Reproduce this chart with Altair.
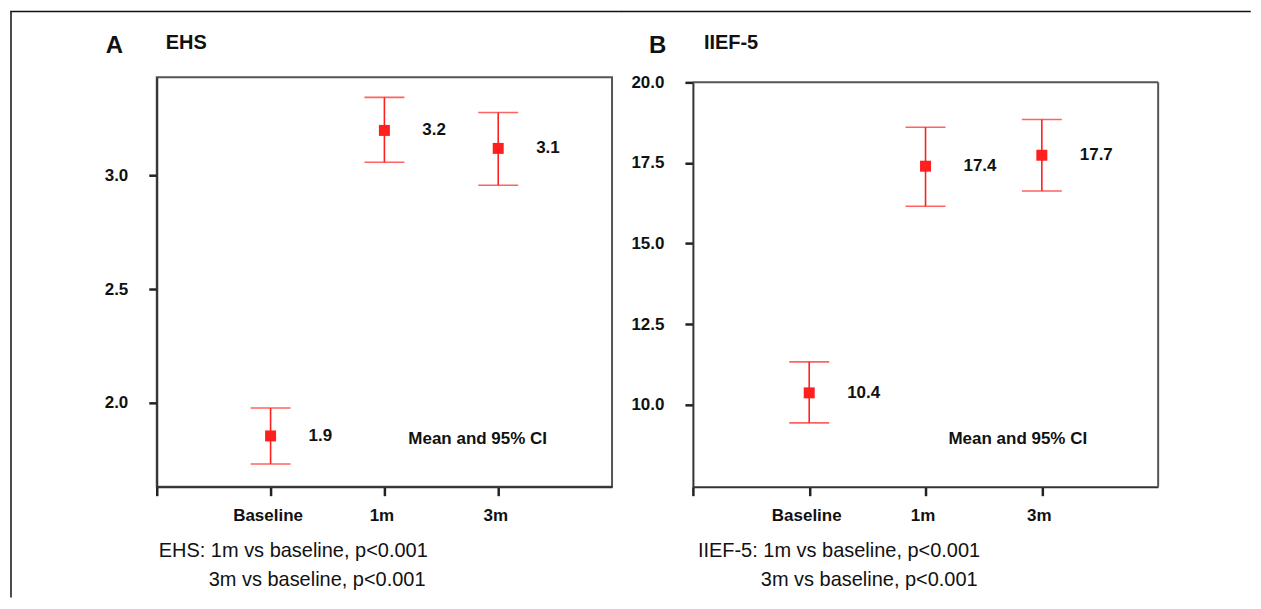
import altair as alt
import pandas as pd

# ---------------- data ----------------
categories = ["Baseline", "1m", "3m"]
positions = [1, 2, 3]

ehs_mean = [1.855, 3.197, 3.118]
ehs_lo = [1.732, 3.057, 2.956]
ehs_hi = [1.978, 3.342, 3.276]
ehs_labels = ["1.9", "3.2", "3.1"]

iief_mean = [10.37, 17.40, 17.74]
iief_lo = [9.44, 16.16, 16.63]
iief_hi = [11.33, 18.61, 18.85]
iief_labels = ["10.4", "17.4", "17.7"]

ehs_ticks = [2.0, 2.5, 3.0]
iief_ticks = [10.0, 12.5, 15.0, 17.5, 20.0]
ehs_domain = [1.632, 3.43]
iief_domain = [7.46, 20.0]
x_ticks = [0, 1, 2, 3]
x_domain = [0, 4]

ehs_notes = ["EHS: 1m vs baseline, p<0.001", "3m vs baseline, p<0.001"]
iief_notes = ["IIEF-5: 1m vs baseline, p<0.001", "3m vs baseline, p<0.001"]
legend_note = "Mean and 95% CI"

FONT = "Liberation Sans, Arial, sans-serif"
RED = "#ff1f1f"
FRAME = "#555555"
H = 410

label_expr = " : ".join(
    f"datum.value == {p} ? '{c}'" for p, c in zip(positions, categories)
) + " : ''"


def text_chart(txt, x, y, size, weight="bold", align="left", baseline="alphabetic"):
    return alt.Chart(pd.DataFrame({"t": [txt]})).mark_text(
        align=align, baseline=baseline, font=FONT, fontSize=size,
        fontWeight=weight, color="#111111"
    ).encode(x=alt.value(x), y=alt.value(y), text="t:N")


def panel(mean, lo, hi, labels, ticks, domain, width,
          letter, name, notes, letter_pos, name_pos, legend_pos,
          note_pos, border_left, border_right, y_range=None):
    df = pd.DataFrame({
        "pos": positions, "cat": categories, "mean": mean,
        "lo": lo, "hi": hi, "label": labels,
    })
    xaxis = alt.Axis(values=x_ticks, labelExpr=label_expr, title="",
                     grid=False, tickSize=9, tickWidth=2.5, tickColor="#222222",
                     domainColor="#333333", domainWidth=2,
                     labelFont=FONT, labelFontSize=17, labelFontWeight="bold",
                     labelColor="#111111", labelPadding=12, labelOffset=-3,
                     labelFlush=False)
    yaxis = alt.Axis(values=ticks, format=".1f", title="", grid=False,
                     tickSize=8, tickWidth=2.5, tickColor="#222222",
                     domainColor="#333333", domainWidth=2,
                     labelFont=FONT, labelFontSize=17, labelFontWeight="bold",
                     labelColor="#111111", labelPadding=21, labelFlush=False)

    if y_range is None:
        yscale = alt.Scale(domain=domain, nice=False, zero=False)
    else:
        yscale = alt.Scale(domain=domain, nice=False, zero=False, range=y_range)

    def X():
        return alt.X("pos:Q", scale=alt.Scale(domain=x_domain, nice=False, zero=False), axis=xaxis)

    def Y(field):
        return alt.Y(f"{field}:Q", scale=yscale, axis=yaxis)

    base = alt.Chart(df)
    bars = base.mark_rule(color=RED, strokeWidth=1.6).encode(x=X(), y=Y("lo"), y2="hi:Q")
    cap_hi = base.mark_tick(color=RED, orient="horizontal", size=40, thickness=1.6).encode(x=X(), y=Y("hi"))
    cap_lo = base.mark_tick(color=RED, orient="horizontal", size=40, thickness=1.6).encode(x=X(), y=Y("lo"))
    pts = base.mark_square(color=RED, size=121, opacity=1).encode(x=X(), y=Y("mean"))
    vals = base.mark_text(align="left", baseline="middle", dx=38, font=FONT,
                          fontSize=17, fontWeight="bold", color="#111111").encode(
        x=X(), y=Y("mean"), text="label:N")

    layers = [bars, cap_hi, cap_lo, pts, vals,
              text_chart(letter, letter_pos[0], letter_pos[1], 24),
              text_chart(name, name_pos[0], name_pos[1], 20),
              text_chart(legend_note, legend_pos[0], legend_pos[1], 17, baseline="middle"),
              text_chart(notes[0], note_pos[0][0], note_pos[0][1], 20, weight="normal"),
              text_chart(notes[1], note_pos[1][0], note_pos[1][1], 20, weight="normal")]

    one = pd.DataFrame({"d": [0]})
    top = alt.Chart(one).mark_rule(color="#111111", strokeWidth=1.5, strokeCap="square").encode(
        x=alt.value(border_left), x2=alt.value(border_right), y=alt.value(-66))
    layers.append(top)

    if y_range is not None:
        frame_top = alt.Chart(one).mark_rule(color=FRAME, strokeWidth=2).encode(
            x=alt.value(0), x2=alt.value(width), y=alt.datum(domain[1], scale=yscale))
        frame_right = alt.Chart(one).mark_rule(color=FRAME, strokeWidth=2).encode(
            x=alt.value(width), y=alt.datum(domain[1], scale=yscale), y2=alt.value(H))
        layers += [frame_top, frame_right]

    ch = alt.layer(*layers).properties(width=width, height=H)
    if y_range is not None:
        ch = ch.properties(view=alt.ViewBackground(stroke="transparent"))
    return ch


A = panel(ehs_mean, ehs_lo, ehs_hi, ehs_labels, ehs_ticks, ehs_domain, 456,
          "A", "EHS", ehs_notes,
          letter_pos=(-51, -24), name_pos=(9, -28), legend_pos=(252, 362),
          note_pos=[(2, 480), (52, 509)],
          border_left=-146, border_right=465)

left_border = alt.Chart(pd.DataFrame({"d": [0]})).mark_rule(color="#111111", strokeWidth=1.5).encode(
    x=alt.value(-146), y=alt.value(-66), y2=alt.value(521))
A = alt.layer(A, left_border)

B = panel(iief_mean, iief_lo, iief_hi, iief_labels, iief_ticks, iief_domain, 466,
          "B", "IIEF-5", iief_notes,
          letter_pos=(-44, -24), name_pos=(11, -28), legend_pos=(256, 362),
          note_pos=[(5, 480), (68, 509)],
          border_left=-71, border_right=558, y_range=[H, 5])

chart = alt.hconcat(A, B, spacing=-5).properties(
    padding={"left": 0, "top": 0, "right": 0, "bottom": 0}
).configure_view(stroke=FRAME, strokeWidth=2)

chart.save("out.html", embed_options={"renderer": "svg", "actions": False})
